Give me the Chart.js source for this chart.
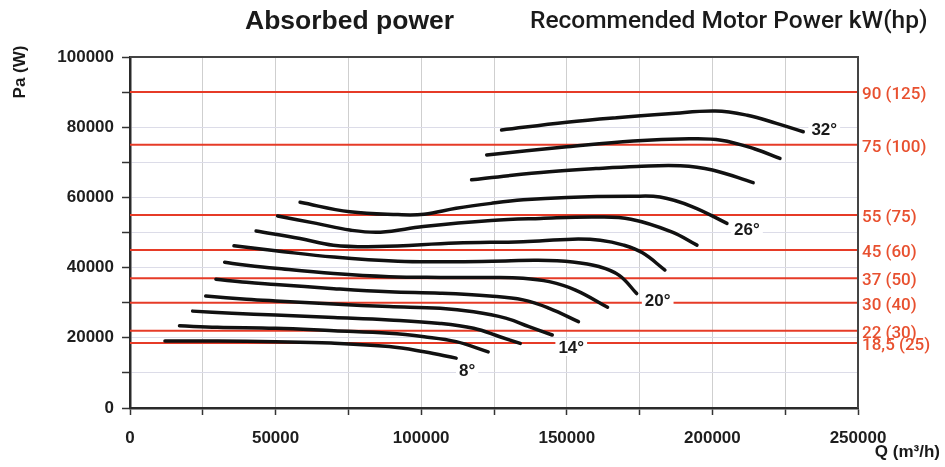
<!DOCTYPE html>
<html>
<head>
<meta charset="utf-8">
<script src="https://cdn.jsdelivr.net/npm/chart.js@4.4.1/dist/chart.umd.min.js"></script>
<style>
  html, body { margin: 0; padding: 0; background: #fff; }
</style>
</head>
<body>
<canvas id="powerChart" width="945" height="467"></canvas>
<script>
// Q (m3/h) and absorbed power Pa (W) per blade angle
const q8 = [12000, 30000, 50000, 69000, 89000, 101000, 112000];
const p8 = [19100, 19100, 18900, 18500, 17500, 16000, 14200];
const q10 = [17000, 30000, 50000, 70000, 89000, 101000, 112000, 123000];
const p10 = [23400, 23000, 22700, 22000, 21300, 20300, 18900, 16000];
const q12 = [21500, 35000, 50000, 70000, 89000, 106500, 118000, 127000, 134000];
const p12 = [27600, 27000, 26500, 25800, 25100, 24100, 22700, 20300, 18400];
const q14 = [26000, 40000, 50000, 70000, 89000, 106500, 118000, 129000, 137000, 145000];
const p14 = [31900, 31000, 30500, 29600, 28900, 28400, 27400, 25600, 23200, 20800];
const q16 = [29500, 40000, 50000, 70000, 89000, 106500, 123500, 135000, 144000, 154000];
const p16 = [36700, 35800, 35200, 34000, 33100, 32700, 31900, 30800, 28400, 24600];
const q18 = [32500, 40000, 50000, 70000, 89000, 106500, 123500, 135000, 144000, 153000, 164000];
const p18 = [41500, 40700, 39800, 38300, 37400, 37200, 37200, 37000, 36000, 33600, 28700];
const q20 = [35700, 50000, 70000, 92000, 112000, 129000, 140000, 152000, 161000, 168000, 174000];
const p20 = [46200, 44800, 43000, 41800, 41700, 41900, 42100, 41600, 40300, 37800, 32600];
const q22 = [43300, 58400, 69800, 85000, 112000, 135000, 152000, 161500, 169500, 176000, 183700];
const p22 = [50400, 48300, 46400, 46000, 47000, 47400, 48100, 47800, 46400, 44200, 39300];
const q24 = [50700, 64000, 75500, 86000, 100700, 124000, 141000, 160000, 172000, 186000, 194700];
const p24 = [54700, 52600, 50700, 50100, 51700, 53400, 54000, 54400, 53800, 50200, 46400];
const q26 = [58400, 75500, 92000, 101000, 112000, 124000, 135000, 150000, 172000, 182000, 193000, 205000];
const p26 = [58600, 55900, 55100, 55200, 56900, 58300, 59300, 60000, 60300, 60100, 57400, 52600];
const q28 = [117300, 130000, 144000, 160000, 174000, 189000, 200000, 214000];
const p28 = [65000, 66200, 67300, 68200, 68800, 69000, 67800, 64200];
const q30 = [122500, 150000, 172800, 192000, 203000, 214600, 223200];
const p30 = [72100, 74400, 76100, 76700, 76300, 73800, 71100];
const q32 = [127600, 150000, 167100, 185000, 201000, 212000, 222000, 231200];
const p32 = [79200, 81400, 82700, 83800, 84600, 83400, 81100, 78700];

const angles = [8, 10, 12, 14, 16, 18, 20, 22, 24, 26, 28, 30, 32];
const curveQ = [q8, q10, q12, q14, q16, q18, q20, q22, q24, q26, q28, q30, q32];
const curveP = [p8, p10, p12, p14, p16, p18, p20, p22, p24, p26, p28, p30, p32];
const labelledAngles = [8, 14, 20, 26, 32];

// recommended motor power kW and (hp)
const motorKw = [90, 75, 55, 45, 37, 30, 22, 18.5];
const motorLabels = ["90 (125)", "75 (100)", "55 (75)", "45 (60)", "37 (50)", "30 (40)", "22 (30)", "18,5 (25)"];

const qMax = 250000;
const paMax = 100000;

const FONT = '"Liberation Sans", Arial, Helvetica, sans-serif';
const RED = "#e63b27";

const motorSets = motorKw.map((kw, i) => ({
  label: motorLabels[i],
  data: [{ x: 0, y: kw * 1000 }, { x: qMax, y: kw * 1000 }],
  borderColor: RED,
  borderWidth: 2,
  pointRadius: 0,
  order: 2
}));

const curveSets = angles.map((a, i) => ({
  label: a + "°",
  data: curveQ[i].map((q, j) => ({ x: q, y: curveP[i][j] })),
  borderColor: "#111",
  borderWidth: 3.5,
  borderCapStyle: "round",
  pointRadius: 0,
  tension: 0.4,
  order: 1
}));

const frameAndText = {
  id: "frameAndText",
  afterDraw(chart) {
    const { ctx, chartArea: a } = chart;
    ctx.save();
    // top and right frame
    ctx.strokeStyle = "#444";
    ctx.lineWidth = 2;
    ctx.beginPath();
    ctx.moveTo(a.left, a.top);
    ctx.lineTo(a.right, a.top);
    ctx.lineTo(a.right, a.bottom);
    ctx.stroke();

    // angle labels at the end of some curves
    const offsets = { 8: [11, 13], 14: [19, 13], 20: [21, 8], 26: [20, 7], 32: [21, -1] };
    ctx.font = "bold 17px " + FONT;
    ctx.textAlign = "center";
    ctx.textBaseline = "middle";
    labelledAngles.forEach((ang) => {
      const meta = chart.getDatasetMeta(motorSets.length + angles.indexOf(ang));
      const last = meta.data[meta.data.length - 1];
      const [dx, dy] = offsets[ang];
      const x = last.x + dx, y = last.y + dy;
      const w = ctx.measureText(ang + "°").width;
      ctx.fillStyle = "#fff";
      ctx.fillRect(x - w / 2 - 3, y - 8, w + 6, 16);
      ctx.fillStyle = "#1a1a1a";
      ctx.fillText(ang + "°", x, y);
    });

    // titles
    ctx.textAlign = "left";
    ctx.fillStyle = "#1a1a1a";
    ctx.font = "bold 26.5px " + FONT;
    ctx.fillText("Absorbed power", 245, 22);
    ctx.font = "500 24.5px Roboto, " + FONT;
    ctx.fillText("Recommended Motor Power kW(hp)", 530, 22);

    ctx.font = "bold 17px " + FONT;
    ctx.textAlign = "right";
    ctx.fillText("Q (m³/h)", 940, 452);

    ctx.translate(20, 72);
    ctx.rotate(-Math.PI / 2);
    ctx.textAlign = "center";
    ctx.font = "bold 17px " + FONT;
    ctx.fillText("Pa (W)", 0, 0);
    ctx.restore();
  }
};

new Chart(document.getElementById("powerChart"), {
  type: "scatter",
  data: { datasets: [...motorSets, ...curveSets] },
  options: {
    responsive: false,
    animation: false,
    devicePixelRatio: 1,
    showLine: true,
    layout: { padding: { top: 57, left: 0, right: 0, bottom: 0 } },
    plugins: { legend: { display: false }, tooltip: { enabled: false } },
    scales: {
      x: {
        type: "linear",
        min: 0,
        max: qMax,
        afterFit: (s) => { s.height = 59; },
        grid: { color: "#cfcfcf", tickLength: 7, tickColor: "#333", tickWidth: 1.5 },
        border: { color: "#2a2a2a", width: 2.5 },
        ticks: {
          stepSize: 25000,
          autoSkip: false,
          maxRotation: 0,
          padding: 13,
          color: "#1e1e1e",
          font: { family: FONT, size: 17, weight: "bold" },
          callback: (v) => (v % 50000 === 0 ? String(v) : "")
        }
      },
      y: {
        type: "linear",
        min: 0,
        max: paMax,
        afterFit: (s) => { s.width = 130; },
        grid: { color: "#dcdce8", tickLength: 8, tickColor: "#333", tickWidth: 1.5 },
        border: { color: "#2a2a2a", width: 2.5 },
        ticks: {
          stepSize: 10000,
          autoSkip: false,
          padding: 8,
          color: "#1e1e1e",
          font: { family: FONT, size: 17, weight: "bold" },
          callback: (v) => (v % 20000 === 0 ? String(v) : "")
        }
      },
      y2: {
        type: "linear",
        position: "right",
        min: 0,
        max: paMax,
        afterFit: (s) => { s.width = 87; },
        afterBuildTicks: (s) => { s.ticks = motorKw.map((kw) => ({ value: kw * 1000 })); },
        grid: { display: false, drawTicks: false },
        border: { display: false },
        ticks: {
          autoSkip: false,
          padding: 4,
          labelOffset: 3,
          color: "#e8502f",
          font: { family: "Roboto, " + FONT, size: 17, weight: "500" },
          callback: (v) => motorLabels[motorKw.indexOf(v / 1000)]
        }
      }
    }
  },
  plugins: [frameAndText]
});
</script>
</body>
</html>
